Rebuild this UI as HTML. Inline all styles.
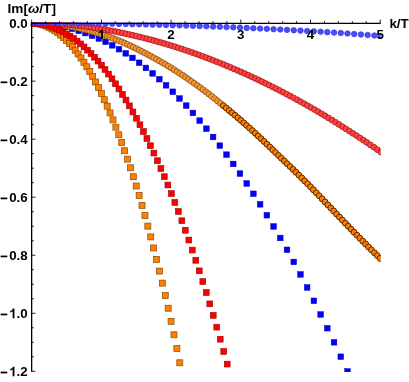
<!DOCTYPE html>
<html><head><meta charset="utf-8"><title>plot</title>
<style>
html,body{margin:0;padding:0;background:#fff;}
svg{display:block;will-change:transform;}
text{font-family:"Liberation Sans",sans-serif;font-weight:bold;fill:#000;}
</style></head><body>
<svg width="409" height="382" viewBox="0 0 409 382">
<rect width="409" height="382" fill="#fff"/>
<defs><clipPath id="cp"><rect x="30.9" y="22.4" width="349.9" height="349.6"/></clipPath></defs>
<g clip-path="url(#cp)">
<g fill="#ff8000" stroke="#8a4a00" stroke-width="0.7">
<rect x="28.65" y="20.10" width="6.0" height="6.0"/><rect x="31.55" y="20.22" width="6.0" height="6.0"/><rect x="34.46" y="20.58" width="6.0" height="6.0"/><rect x="37.36" y="21.18" width="6.0" height="6.0"/><rect x="40.27" y="22.01" width="6.0" height="6.0"/><rect x="43.17" y="23.09" width="6.0" height="6.0"/><rect x="46.08" y="24.41" width="6.0" height="6.0"/><rect x="48.98" y="25.97" width="6.0" height="6.0"/><rect x="51.89" y="27.77" width="6.0" height="6.0"/><rect x="54.79" y="29.81" width="6.0" height="6.0"/><rect x="57.70" y="32.10" width="6.0" height="6.0"/><rect x="60.60" y="34.63" width="6.0" height="6.0"/><rect x="63.50" y="37.41" width="6.0" height="6.0"/><rect x="66.41" y="40.43" width="6.0" height="6.0"/><rect x="69.31" y="43.70" width="6.0" height="6.0"/><rect x="72.22" y="47.22" width="6.0" height="6.0"/><rect x="75.12" y="50.99" width="6.0" height="6.0"/><rect x="78.03" y="55.01" width="6.0" height="6.0"/><rect x="80.93" y="59.28" width="6.0" height="6.0"/><rect x="83.84" y="63.81" width="6.0" height="6.0"/><rect x="86.74" y="68.60" width="6.0" height="6.0"/><rect x="89.65" y="73.64" width="6.0" height="6.0"/><rect x="92.55" y="78.97" width="6.0" height="6.0"/><rect x="95.46" y="84.62" width="6.0" height="6.0"/><rect x="98.36" y="90.54" width="6.0" height="6.0"/><rect x="101.26" y="96.72" width="6.0" height="6.0"/><rect x="104.17" y="103.18" width="6.0" height="6.0"/><rect x="107.07" y="109.91" width="6.0" height="6.0"/><rect x="109.98" y="116.91" width="6.0" height="6.0"/><rect x="112.88" y="124.19" width="6.0" height="6.0"/><rect x="115.79" y="131.76" width="6.0" height="6.0"/><rect x="118.69" y="139.60" width="6.0" height="6.0"/><rect x="121.60" y="147.74" width="6.0" height="6.0"/><rect x="124.50" y="156.12" width="6.0" height="6.0"/><rect x="127.41" y="164.78" width="6.0" height="6.0"/><rect x="130.31" y="173.74" width="6.0" height="6.0"/><rect x="133.22" y="183.00" width="6.0" height="6.0"/><rect x="136.12" y="192.57" width="6.0" height="6.0"/><rect x="139.02" y="202.44" width="6.0" height="6.0"/><rect x="141.93" y="212.62" width="6.0" height="6.0"/><rect x="144.83" y="223.12" width="6.0" height="6.0"/><rect x="147.74" y="233.91" width="6.0" height="6.0"/><rect x="150.64" y="244.97" width="6.0" height="6.0"/><rect x="153.55" y="256.35" width="6.0" height="6.0"/><rect x="156.45" y="268.07" width="6.0" height="6.0"/><rect x="159.36" y="280.12" width="6.0" height="6.0"/><rect x="162.26" y="292.51" width="6.0" height="6.0"/><rect x="165.17" y="305.24" width="6.0" height="6.0"/><rect x="168.07" y="318.33" width="6.0" height="6.0"/><rect x="170.97" y="331.78" width="6.0" height="6.0"/><rect x="173.88" y="345.60" width="6.0" height="6.0"/><rect x="176.78" y="359.78" width="6.0" height="6.0"/><rect x="179.69" y="374.34" width="6.0" height="6.0"/>
</g>
<g fill="#0000ff" stroke="#0000b8" stroke-width="0.5">
<rect x="28.85" y="20.30" width="5.6" height="5.6"/><rect x="35.57" y="20.46" width="5.6" height="5.6"/><rect x="42.29" y="20.93" width="5.6" height="5.6"/><rect x="49.01" y="21.72" width="5.6" height="5.6"/><rect x="55.73" y="22.82" width="5.6" height="5.6"/><rect x="62.45" y="24.23" width="5.6" height="5.6"/><rect x="69.17" y="25.96" width="5.6" height="5.6"/><rect x="75.89" y="28.01" width="5.6" height="5.6"/><rect x="82.61" y="30.30" width="5.6" height="5.6"/><rect x="89.33" y="32.89" width="5.6" height="5.6"/><rect x="96.05" y="35.79" width="5.6" height="5.6"/><rect x="102.77" y="39.01" width="5.6" height="5.6"/><rect x="109.49" y="42.54" width="5.6" height="5.6"/><rect x="116.21" y="46.39" width="5.6" height="5.6"/><rect x="122.93" y="50.56" width="5.6" height="5.6"/><rect x="129.65" y="55.10" width="5.6" height="5.6"/><rect x="136.37" y="59.96" width="5.6" height="5.6"/><rect x="143.09" y="65.12" width="5.6" height="5.6"/><rect x="149.81" y="70.60" width="5.6" height="5.6"/><rect x="156.53" y="76.40" width="5.6" height="5.6"/><rect x="163.25" y="82.51" width="5.6" height="5.6"/><rect x="169.97" y="88.94" width="5.6" height="5.6"/><rect x="176.69" y="95.70" width="5.6" height="5.6"/><rect x="183.41" y="102.77" width="5.6" height="5.6"/><rect x="190.13" y="110.15" width="5.6" height="5.6"/><rect x="196.85" y="117.85" width="5.6" height="5.6"/><rect x="203.57" y="125.86" width="5.6" height="5.6"/><rect x="210.29" y="134.19" width="5.6" height="5.6"/><rect x="217.01" y="142.83" width="5.6" height="5.6"/><rect x="223.73" y="151.83" width="5.6" height="5.6"/><rect x="230.45" y="161.15" width="5.6" height="5.6"/><rect x="237.17" y="170.78" width="5.6" height="5.6"/><rect x="243.89" y="180.72" width="5.6" height="5.6"/><rect x="250.61" y="190.98" width="5.6" height="5.6"/><rect x="257.33" y="201.55" width="5.6" height="5.6"/><rect x="264.05" y="212.44" width="5.6" height="5.6"/><rect x="270.77" y="223.64" width="5.6" height="5.6"/><rect x="277.49" y="235.16" width="5.6" height="5.6"/><rect x="284.21" y="246.99" width="5.6" height="5.6"/><rect x="290.93" y="259.14" width="5.6" height="5.6"/><rect x="297.65" y="271.62" width="5.6" height="5.6"/><rect x="304.37" y="284.66" width="5.6" height="5.6"/><rect x="311.09" y="298.01" width="5.6" height="5.6"/><rect x="317.81" y="311.66" width="5.6" height="5.6"/><rect x="324.53" y="325.43" width="5.6" height="5.6"/><rect x="331.25" y="339.51" width="5.6" height="5.6"/><rect x="337.97" y="353.91" width="5.6" height="5.6"/><rect x="344.69" y="368.63" width="5.6" height="5.6"/>
</g>
<g fill="#ff962d" stroke="#5a3a10" stroke-width="0.6">
<circle cx="31.65" cy="23.10" r="3.0"/><circle cx="34.55" cy="23.12" r="3.0"/><circle cx="37.46" cy="23.18" r="3.0"/><circle cx="40.36" cy="23.28" r="3.0"/><circle cx="43.27" cy="23.42" r="3.0"/><circle cx="46.17" cy="23.60" r="3.0"/><circle cx="49.08" cy="23.82" r="3.0"/><circle cx="51.98" cy="24.07" r="3.0"/><circle cx="54.89" cy="24.36" r="3.0"/><circle cx="57.79" cy="24.69" r="3.0"/><circle cx="60.70" cy="25.06" r="3.0"/><circle cx="63.60" cy="25.47" r="3.0"/><circle cx="66.50" cy="25.91" r="3.0"/><circle cx="69.41" cy="26.40" r="3.0"/><circle cx="72.31" cy="26.92" r="3.0"/><circle cx="75.22" cy="27.48" r="3.0"/><circle cx="78.12" cy="28.08" r="3.0"/><circle cx="81.03" cy="28.71" r="3.0"/><circle cx="83.93" cy="29.39" r="3.0"/><circle cx="86.84" cy="30.10" r="3.0"/><circle cx="89.74" cy="30.85" r="3.0"/><circle cx="92.65" cy="31.64" r="3.0"/><circle cx="95.55" cy="32.47" r="3.0"/><circle cx="98.46" cy="33.33" r="3.0"/><circle cx="101.36" cy="34.24" r="3.0"/><circle cx="104.26" cy="35.18" r="3.0"/><circle cx="107.17" cy="36.19" r="3.0"/><circle cx="110.07" cy="37.25" r="3.0"/><circle cx="112.98" cy="38.34" r="3.0"/><circle cx="115.88" cy="39.48" r="3.0"/><circle cx="118.79" cy="40.65" r="3.0"/><circle cx="121.69" cy="41.86" r="3.0"/><circle cx="124.60" cy="43.11" r="3.0"/><circle cx="127.50" cy="44.42" r="3.0"/><circle cx="130.41" cy="45.76" r="3.0"/><circle cx="133.31" cy="47.14" r="3.0"/><circle cx="136.22" cy="48.56" r="3.0"/><circle cx="139.12" cy="50.02" r="3.0"/><circle cx="142.02" cy="51.51" r="3.0"/><circle cx="144.93" cy="53.04" r="3.0"/><circle cx="147.83" cy="54.61" r="3.0"/><circle cx="150.74" cy="56.17" r="3.0"/><circle cx="153.64" cy="57.73" r="3.0"/><circle cx="156.55" cy="59.33" r="3.0"/><circle cx="159.45" cy="60.96" r="3.0"/><circle cx="162.36" cy="62.63" r="3.0"/><circle cx="165.26" cy="64.34" r="3.0"/><circle cx="168.17" cy="66.08" r="3.0"/><circle cx="171.07" cy="67.86" r="3.0"/><circle cx="173.97" cy="69.67" r="3.0"/><circle cx="176.88" cy="71.52" r="3.0"/><circle cx="179.78" cy="73.40" r="3.0"/><circle cx="182.69" cy="75.32" r="3.0"/><circle cx="185.59" cy="77.27" r="3.0"/><circle cx="188.50" cy="79.26" r="3.0"/><circle cx="191.40" cy="81.28" r="3.0"/><circle cx="194.31" cy="83.33" r="3.0"/><circle cx="197.21" cy="85.42" r="3.0"/><circle cx="200.12" cy="87.54" r="3.0"/><circle cx="203.02" cy="89.69" r="3.0"/><circle cx="205.93" cy="91.87" r="3.0"/><circle cx="208.83" cy="94.09" r="3.0"/><circle cx="211.73" cy="96.34" r="3.0"/><circle cx="214.64" cy="98.62" r="3.0"/><circle cx="217.54" cy="100.93" r="3.0"/><circle cx="220.45" cy="103.27" r="3.0"/>
</g>
<g fill="#ff8000" stroke="#5a2800" stroke-width="1.0">
<circle cx="223.35" cy="105.64" r="2.95"/><circle cx="226.26" cy="108.03" r="2.95"/><circle cx="229.16" cy="110.43" r="2.95"/><circle cx="232.07" cy="112.85" r="2.95"/><circle cx="234.97" cy="115.31" r="2.95"/><circle cx="237.88" cy="117.79" r="2.95"/><circle cx="240.78" cy="120.30" r="2.95"/><circle cx="243.68" cy="122.84" r="2.95"/><circle cx="246.59" cy="125.40" r="2.95"/><circle cx="249.49" cy="127.99" r="2.95"/><circle cx="252.40" cy="130.61" r="2.95"/><circle cx="255.30" cy="133.27" r="2.95"/><circle cx="258.21" cy="135.97" r="2.95"/><circle cx="261.11" cy="138.70" r="2.95"/><circle cx="264.02" cy="141.45" r="2.95"/><circle cx="266.92" cy="144.22" r="2.95"/><circle cx="269.83" cy="147.01" r="2.95"/><circle cx="272.73" cy="149.82" r="2.95"/><circle cx="275.63" cy="152.65" r="2.95"/><circle cx="278.54" cy="155.51" r="2.95"/><circle cx="281.44" cy="158.27" r="2.95"/><circle cx="284.35" cy="161.03" r="2.95"/><circle cx="287.25" cy="163.80" r="2.95"/><circle cx="290.16" cy="166.59" r="2.95"/><circle cx="293.06" cy="169.40" r="2.95"/><circle cx="295.97" cy="172.23" r="2.95"/><circle cx="298.87" cy="175.12" r="2.95"/><circle cx="301.78" cy="178.01" r="2.95"/><circle cx="304.68" cy="180.91" r="2.95"/><circle cx="307.59" cy="183.82" r="2.95"/><circle cx="310.49" cy="186.76" r="2.95"/><circle cx="313.39" cy="189.78" r="2.95"/><circle cx="316.30" cy="192.80" r="2.95"/><circle cx="319.20" cy="195.83" r="2.95"/><circle cx="322.11" cy="198.86" r="2.95"/><circle cx="325.01" cy="201.90" r="2.95"/><circle cx="327.92" cy="204.94" r="2.95"/><circle cx="330.82" cy="207.98" r="2.95"/><circle cx="333.73" cy="211.03" r="2.95"/><circle cx="336.63" cy="214.09" r="2.95"/><circle cx="339.54" cy="217.14" r="2.95"/><circle cx="342.44" cy="220.18" r="2.95"/><circle cx="345.35" cy="223.21" r="2.95"/><circle cx="348.25" cy="226.24" r="2.95"/><circle cx="351.15" cy="229.26" r="2.95"/><circle cx="354.06" cy="232.26" r="2.95"/><circle cx="356.96" cy="235.25" r="2.95"/><circle cx="359.87" cy="238.23" r="2.95"/><circle cx="362.77" cy="241.18" r="2.95"/><circle cx="365.68" cy="244.12" r="2.95"/><circle cx="368.58" cy="247.03" r="2.95"/><circle cx="371.49" cy="249.92" r="2.95"/><circle cx="374.39" cy="252.78" r="2.95"/><circle cx="377.30" cy="255.61" r="2.95"/><circle cx="380.20" cy="258.41" r="2.95"/>
</g>
<g fill="#ff4444" stroke="#8a0000" stroke-width="0.6">
<circle cx="31.65" cy="23.10" r="2.95"/><circle cx="35.14" cy="23.11" r="2.95"/><circle cx="38.63" cy="23.16" r="2.95"/><circle cx="42.13" cy="23.23" r="2.95"/><circle cx="45.62" cy="23.32" r="2.95"/><circle cx="49.11" cy="23.45" r="2.95"/><circle cx="52.60" cy="23.60" r="2.95"/><circle cx="56.10" cy="23.78" r="2.95"/><circle cx="59.59" cy="23.99" r="2.95"/><circle cx="63.08" cy="24.23" r="2.95"/><circle cx="66.57" cy="24.49" r="2.95"/><circle cx="70.07" cy="24.79" r="2.95"/><circle cx="73.56" cy="25.11" r="2.95"/><circle cx="77.05" cy="25.45" r="2.95"/><circle cx="80.54" cy="25.84" r="2.95"/><circle cx="84.04" cy="26.29" r="2.95"/><circle cx="87.53" cy="26.76" r="2.95"/><circle cx="91.02" cy="27.27" r="2.95"/><circle cx="94.51" cy="27.80" r="2.95"/><circle cx="98.01" cy="28.36" r="2.95"/><circle cx="101.50" cy="28.95" r="2.95"/><circle cx="104.99" cy="29.56" r="2.95"/><circle cx="108.48" cy="30.20" r="2.95"/><circle cx="111.98" cy="30.87" r="2.95"/><circle cx="115.47" cy="31.56" r="2.95"/><circle cx="118.96" cy="32.28" r="2.95"/><circle cx="122.45" cy="33.03" r="2.95"/><circle cx="125.95" cy="33.78" r="2.95"/><circle cx="129.44" cy="34.54" r="2.95"/><circle cx="132.93" cy="35.32" r="2.95"/><circle cx="136.42" cy="36.13" r="2.95"/><circle cx="139.92" cy="36.97" r="2.95"/><circle cx="143.41" cy="37.83" r="2.95"/><circle cx="146.90" cy="38.72" r="2.95"/><circle cx="150.39" cy="39.63" r="2.95"/><circle cx="153.89" cy="40.57" r="2.95"/><circle cx="157.38" cy="41.54" r="2.95"/><circle cx="160.87" cy="42.53" r="2.95"/><circle cx="164.36" cy="43.54" r="2.95"/><circle cx="167.86" cy="44.58" r="2.95"/><circle cx="171.35" cy="45.65" r="2.95"/><circle cx="174.84" cy="46.74" r="2.95"/><circle cx="178.33" cy="47.86" r="2.95"/><circle cx="181.83" cy="49.00" r="2.95"/><circle cx="185.32" cy="50.16" r="2.95"/><circle cx="188.81" cy="51.35" r="2.95"/><circle cx="192.30" cy="52.56" r="2.95"/><circle cx="195.80" cy="53.80" r="2.95"/><circle cx="199.29" cy="55.06" r="2.95"/><circle cx="202.78" cy="56.35" r="2.95"/><circle cx="206.27" cy="57.65" r="2.95"/><circle cx="209.77" cy="58.98" r="2.95"/><circle cx="213.26" cy="60.34" r="2.95"/><circle cx="216.75" cy="61.71" r="2.95"/><circle cx="220.24" cy="63.11" r="2.95"/><circle cx="223.74" cy="64.54" r="2.95"/><circle cx="227.23" cy="65.98" r="2.95"/><circle cx="230.72" cy="67.45" r="2.95"/><circle cx="234.21" cy="68.95" r="2.95"/><circle cx="237.71" cy="70.46" r="2.95"/><circle cx="241.20" cy="72.00" r="2.95"/><circle cx="244.69" cy="73.57" r="2.95"/><circle cx="248.18" cy="75.15" r="2.95"/><circle cx="251.68" cy="76.76" r="2.95"/><circle cx="255.17" cy="78.39" r="2.95"/><circle cx="258.66" cy="80.05" r="2.95"/><circle cx="262.15" cy="81.72" r="2.95"/><circle cx="265.65" cy="83.42" r="2.95"/><circle cx="269.14" cy="85.15" r="2.95"/><circle cx="272.63" cy="86.89" r="2.95"/><circle cx="276.12" cy="88.66" r="2.95"/><circle cx="279.62" cy="90.45" r="2.95"/><circle cx="283.11" cy="92.26" r="2.95"/><circle cx="286.60" cy="94.10" r="2.95"/><circle cx="290.09" cy="95.96" r="2.95"/><circle cx="293.59" cy="97.84" r="2.95"/><circle cx="297.08" cy="99.74" r="2.95"/><circle cx="300.57" cy="101.67" r="2.95"/><circle cx="304.06" cy="103.62" r="2.95"/><circle cx="307.56" cy="105.60" r="2.95"/><circle cx="311.05" cy="107.59" r="2.95"/><circle cx="314.54" cy="109.61" r="2.95"/><circle cx="318.03" cy="111.66" r="2.95"/><circle cx="321.53" cy="113.73" r="2.95"/><circle cx="325.02" cy="115.82" r="2.95"/><circle cx="328.51" cy="117.93" r="2.95"/><circle cx="332.00" cy="120.07" r="2.95"/><circle cx="335.49" cy="122.24" r="2.95"/><circle cx="338.99" cy="124.43" r="2.95"/><circle cx="342.48" cy="126.64" r="2.95"/><circle cx="345.97" cy="128.88" r="2.95"/><circle cx="349.46" cy="131.15" r="2.95"/><circle cx="352.96" cy="133.38" r="2.95"/><circle cx="356.45" cy="135.63" r="2.95"/><circle cx="359.94" cy="137.90" r="2.95"/><circle cx="363.43" cy="140.20" r="2.95"/><circle cx="366.93" cy="142.53" r="2.95"/><circle cx="370.42" cy="144.89" r="2.95"/><circle cx="373.91" cy="147.27" r="2.95"/><circle cx="377.40" cy="149.68" r="2.95"/><circle cx="380.90" cy="152.12" r="2.95"/>
</g>
<g fill="#ff0000" stroke="#9a0000" stroke-width="0.6">
<rect x="28.75" y="20.20" width="5.8" height="5.8"/><rect x="32.24" y="20.37" width="5.8" height="5.8"/><rect x="35.73" y="20.74" width="5.8" height="5.8"/><rect x="39.23" y="21.32" width="5.8" height="5.8"/><rect x="42.72" y="22.11" width="5.8" height="5.8"/><rect x="46.21" y="23.10" width="5.8" height="5.8"/><rect x="49.70" y="24.31" width="5.8" height="5.8"/><rect x="53.20" y="25.72" width="5.8" height="5.8"/><rect x="56.69" y="27.34" width="5.8" height="5.8"/><rect x="60.18" y="29.10" width="5.8" height="5.8"/><rect x="63.67" y="31.06" width="5.8" height="5.8"/><rect x="67.17" y="33.23" width="5.8" height="5.8"/><rect x="70.66" y="35.61" width="5.8" height="5.8"/><rect x="74.15" y="38.21" width="5.8" height="5.8"/><rect x="77.64" y="41.01" width="5.8" height="5.8"/><rect x="81.14" y="44.02" width="5.8" height="5.8"/><rect x="84.63" y="47.25" width="5.8" height="5.8"/><rect x="88.12" y="50.68" width="5.8" height="5.8"/><rect x="91.61" y="54.33" width="5.8" height="5.8"/><rect x="95.11" y="58.20" width="5.8" height="5.8"/><rect x="98.60" y="62.29" width="5.8" height="5.8"/><rect x="102.09" y="66.61" width="5.8" height="5.8"/><rect x="105.58" y="71.15" width="5.8" height="5.8"/><rect x="109.08" y="75.91" width="5.8" height="5.8"/><rect x="112.57" y="80.88" width="5.8" height="5.8"/><rect x="116.06" y="86.07" width="5.8" height="5.8"/><rect x="119.55" y="91.48" width="5.8" height="5.8"/><rect x="123.05" y="97.11" width="5.8" height="5.8"/><rect x="126.54" y="102.97" width="5.8" height="5.8"/><rect x="130.03" y="109.04" width="5.8" height="5.8"/><rect x="133.52" y="115.34" width="5.8" height="5.8"/><rect x="137.02" y="121.87" width="5.8" height="5.8"/><rect x="140.51" y="128.62" width="5.8" height="5.8"/><rect x="144.00" y="135.59" width="5.8" height="5.8"/><rect x="147.49" y="142.77" width="5.8" height="5.8"/><rect x="150.99" y="150.17" width="5.8" height="5.8"/><rect x="154.48" y="157.81" width="5.8" height="5.8"/><rect x="157.97" y="165.67" width="5.8" height="5.8"/><rect x="161.46" y="173.78" width="5.8" height="5.8"/><rect x="164.96" y="182.11" width="5.8" height="5.8"/><rect x="168.45" y="190.68" width="5.8" height="5.8"/><rect x="171.94" y="199.50" width="5.8" height="5.8"/><rect x="175.43" y="208.55" width="5.8" height="5.8"/><rect x="178.93" y="217.84" width="5.8" height="5.8"/><rect x="182.42" y="227.37" width="5.8" height="5.8"/><rect x="185.91" y="237.14" width="5.8" height="5.8"/><rect x="189.40" y="247.15" width="5.8" height="5.8"/><rect x="192.90" y="257.41" width="5.8" height="5.8"/><rect x="196.39" y="267.91" width="5.8" height="5.8"/><rect x="199.88" y="278.67" width="5.8" height="5.8"/><rect x="203.37" y="289.68" width="5.8" height="5.8"/><rect x="206.87" y="300.95" width="5.8" height="5.8"/><rect x="210.36" y="312.48" width="5.8" height="5.8"/><rect x="213.85" y="324.26" width="5.8" height="5.8"/><rect x="217.34" y="336.31" width="5.8" height="5.8"/><rect x="220.84" y="348.62" width="5.8" height="5.8"/><rect x="224.33" y="361.20" width="5.8" height="5.8"/><rect x="227.82" y="374.05" width="5.8" height="5.8"/>
</g>
<g fill="#4a4aff" stroke="#3030d0" stroke-width="0.6">
<circle cx="31.65" cy="23.10" r="2.8"/><circle cx="38.37" cy="23.10" r="2.8"/><circle cx="45.09" cy="23.12" r="2.8"/><circle cx="51.81" cy="23.14" r="2.8"/><circle cx="58.53" cy="23.17" r="2.8"/><circle cx="65.25" cy="23.22" r="2.8"/><circle cx="71.97" cy="23.27" r="2.8"/><circle cx="78.69" cy="23.33" r="2.8"/><circle cx="85.41" cy="23.40" r="2.8"/><circle cx="92.13" cy="23.48" r="2.8"/><circle cx="98.85" cy="23.56" r="2.8"/><circle cx="105.57" cy="23.66" r="2.8"/><circle cx="112.29" cy="23.77" r="2.8"/><circle cx="119.01" cy="23.88" r="2.8"/><circle cx="125.73" cy="24.01" r="2.8"/><circle cx="132.45" cy="24.14" r="2.8"/><circle cx="139.17" cy="24.29" r="2.8"/><circle cx="145.89" cy="24.44" r="2.8"/><circle cx="152.61" cy="24.60" r="2.8"/><circle cx="159.33" cy="24.78" r="2.8"/><circle cx="166.05" cy="24.96" r="2.8"/><circle cx="172.77" cy="25.16" r="2.8"/><circle cx="179.49" cy="25.36" r="2.8"/><circle cx="186.21" cy="25.57" r="2.8"/><circle cx="192.93" cy="25.79" r="2.8"/><circle cx="199.65" cy="26.03" r="2.8"/><circle cx="206.37" cy="26.27" r="2.8"/><circle cx="213.09" cy="26.51" r="2.8"/><circle cx="219.81" cy="26.77" r="2.8"/><circle cx="226.53" cy="27.04" r="2.8"/><circle cx="233.25" cy="27.32" r="2.8"/><circle cx="239.97" cy="27.61" r="2.8"/><circle cx="246.69" cy="27.90" r="2.8"/><circle cx="253.41" cy="28.21" r="2.8"/><circle cx="260.13" cy="28.52" r="2.8"/><circle cx="266.85" cy="28.84" r="2.8"/><circle cx="273.57" cy="29.18" r="2.8"/><circle cx="280.29" cy="29.52" r="2.8"/><circle cx="287.01" cy="29.87" r="2.8"/><circle cx="293.73" cy="30.23" r="2.8"/><circle cx="300.45" cy="30.60" r="2.8"/><circle cx="307.17" cy="30.98" r="2.8"/><circle cx="313.89" cy="31.37" r="2.8"/><circle cx="320.61" cy="31.77" r="2.8"/><circle cx="327.33" cy="32.17" r="2.8"/><circle cx="334.05" cy="32.59" r="2.8"/><circle cx="340.77" cy="33.02" r="2.8"/><circle cx="347.49" cy="33.50" r="2.8"/><circle cx="354.21" cy="33.98" r="2.8"/><circle cx="360.93" cy="34.48" r="2.8"/><circle cx="367.65" cy="34.98" r="2.8"/><circle cx="374.37" cy="35.50" r="2.8"/><circle cx="381.09" cy="36.02" r="2.8"/>
</g>
</g>
<g stroke="#000" stroke-width="1.3" fill="none">
<path d="M31.00 23.35H380.60"/><path d="M31.65 22.70V371.70"/>
</g>
<g stroke="#000" stroke-width="0.85" fill="none">
<path d="M31.65 23.35v-3.80M45.59 23.35v-2.20M59.53 23.35v-2.20M73.48 23.35v-2.20M87.42 23.35v-2.20M101.36 23.35v-3.80M115.30 23.35v-2.20M129.24 23.35v-2.20M143.19 23.35v-2.20M157.13 23.35v-2.20M171.07 23.35v-3.80M185.01 23.35v-2.20M198.95 23.35v-2.20M212.90 23.35v-2.20M226.84 23.35v-2.20M240.78 23.35v-3.80M254.72 23.35v-2.20M268.66 23.35v-2.20M282.61 23.35v-2.20M296.55 23.35v-2.20M310.49 23.35v-3.80M324.43 23.35v-2.20M338.37 23.35v-2.20M352.32 23.35v-2.20M366.26 23.35v-2.20M380.20 23.35v-3.80"/><path d="M31.65 23.10h3.80M31.65 37.61h2.20M31.65 52.12h2.20M31.65 66.63h2.20M31.65 81.13h3.80M31.65 95.64h2.20M31.65 110.15h2.20M31.65 124.66h2.20M31.65 139.17h3.80M31.65 153.68h2.20M31.65 168.18h2.20M31.65 182.69h2.20M31.65 197.20h3.80M31.65 211.71h2.20M31.65 226.22h2.20M31.65 240.72h2.20M31.65 255.23h3.80M31.65 269.74h2.20M31.65 284.25h2.20M31.65 298.76h2.20M31.65 313.27h3.80M31.65 327.78h2.20M31.65 342.28h2.20M31.65 356.79h2.20M31.65 371.30h3.80"/>
</g>
<g font-size="13.3">
<path d="M102.90 39.10 L101.07 39.10 L101.07 32.22 Q100.07 33.16 98.71 33.61 L98.71 31.95 Q99.43 31.72 100.27 31.06 Q101.10 30.41 101.42 29.54 L102.90 29.54 Z"/><text x="171.07" y="39.1" text-anchor="middle">2</text><text x="240.78" y="39.1" text-anchor="middle">3</text><text x="310.49" y="39.1" text-anchor="middle">4</text><text x="380.20" y="39.1" text-anchor="middle">5</text>
<text x="27.7" y="28.00" text-anchor="end">0.0</text><text x="27.7" y="86.03" text-anchor="end">0.2</text><rect x="0.6" y="81.48" width="6.7" height="1.7"/><text x="27.7" y="144.07" text-anchor="end">0.4</text><rect x="0.6" y="139.52" width="6.7" height="1.7"/><text x="27.7" y="202.10" text-anchor="end">0.6</text><rect x="0.6" y="197.55" width="6.7" height="1.7"/><text x="27.7" y="260.13" text-anchor="end">0.8</text><rect x="0.6" y="255.58" width="6.7" height="1.7"/><text x="27.7" y="318.17" text-anchor="end">.0</text><path d="M14.45 318.17 L12.62 318.17 L12.62 311.29 Q11.62 312.22 10.26 312.67 L10.26 311.02 Q10.98 310.78 11.82 310.13 Q12.65 309.48 12.96 308.61 L14.45 308.61 Z"/><rect x="0.6" y="313.62" width="6.7" height="1.7"/><text x="27.7" y="376.20" text-anchor="end">.2</text><path d="M14.45 376.20 L12.62 376.20 L12.62 369.32 Q11.62 370.26 10.26 370.71 L10.26 369.05 Q10.98 368.82 11.82 368.16 Q12.65 367.51 12.96 366.64 L14.45 366.64 Z"/><rect x="0.6" y="371.65" width="6.7" height="1.7"/>
</g>
<text x="7.6" y="12.8" font-size="13.6">Im[<tspan font-style="italic">ω</tspan>/T]</text>
<text x="389.4" y="27.8" font-size="13.4">k/T</text>
</svg>
</body></html>
